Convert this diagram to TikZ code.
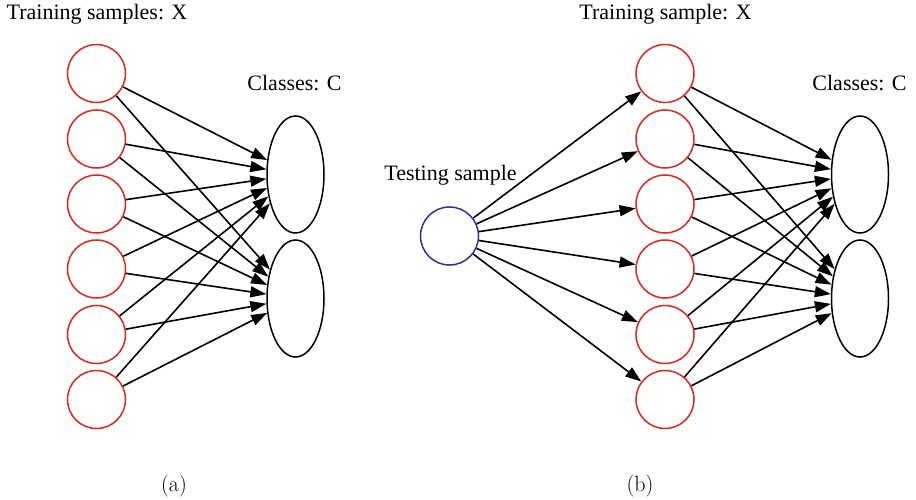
\documentclass[tikz,border=0pt]{standalone}
\usepackage{fontspec}
\setmainfont{Liberation Serif}
\newfontfamily\lmfont{Latin Modern Roman}
\usetikzlibrary{shapes.geometric,arrows.meta}

\definecolor{sampred}{RGB}{222,40,30}
\definecolor{testblue}{RGB}{55,45,155}

\tikzset{
  sample/.style={circle, draw=sampred, line width=1.5pt, minimum size=58pt, inner sep=0pt},
  tester/.style={circle, draw=testblue, line width=1.5pt, minimum size=58pt, inner sep=0pt},
  classnode/.style={ellipse, draw=black, line width=1.5pt, minimum width=57pt, minimum height=117pt, inner sep=0pt},
  link/.style={line width=1.6pt, -{Triangle[length=16pt,width=11pt]}},
  lbl/.style={anchor=base, inner sep=0pt, font=\fontsize{22}{26}\selectfont},
  sublbl/.style={anchor=base, inner sep=0pt, font=\lmfont\fontsize{22}{26}\selectfont}
}

\begin{document}
\begin{tikzpicture}[x=1pt, y=-1pt]
  \useasboundingbox (0,0) rectangle (916,500);

  % ---- panel (a): training samples -> classes
  \foreach \i/\yy in {1/73.5, 2/139, 3/204, 4/269, 5/334.5, 6/399.5}
    \node[sample] (a\i) at (96.5,\yy) {};
  \node[classnode] (ac1) at (295.5,174.5) {};
  \node[classnode] (ac2) at (295.5,298.5) {};

  \foreach \i in {1,...,6} {
    \draw[link] (a\i) -- (ac1);
    \draw[link] (a\i) -- (ac2);
  }

  \node[lbl] (ta) at (97,19.5) {Training samples: X};
  \node[lbl] (ca) at (294.5,91) {Classes: C};
  \node[sublbl] (pa) at (174,491) {(a)};

  % ---- panel (b): testing sample -> training samples -> classes
  \node[tester] (t) at (449.5,236) {};
  \foreach \i/\yy in {1/73.5, 2/139, 3/204, 4/269, 5/334.5, 6/399.5}
    \node[sample] (b\i) at (665,\yy) {};
  \node[classnode] (bc1) at (860,174.5) {};
  \node[classnode] (bc2) at (860,298.5) {};

  \foreach \i in {1,...,6} {
    \draw[link] (t) -- (b\i);
    \draw[link] (b\i) -- (bc1);
    \draw[link] (b\i) -- (bc2);
  }

  \node[lbl] (tb) at (665.5,19.5) {Training sample: X};
  \node[lbl] (cb) at (859.5,91) {Classes: C};
  \node[lbl] (ts) at (450.5,181) {Testing sample};
  \node[sublbl] (pb) at (640,491) {(b)};
\end{tikzpicture}
\end{document}
